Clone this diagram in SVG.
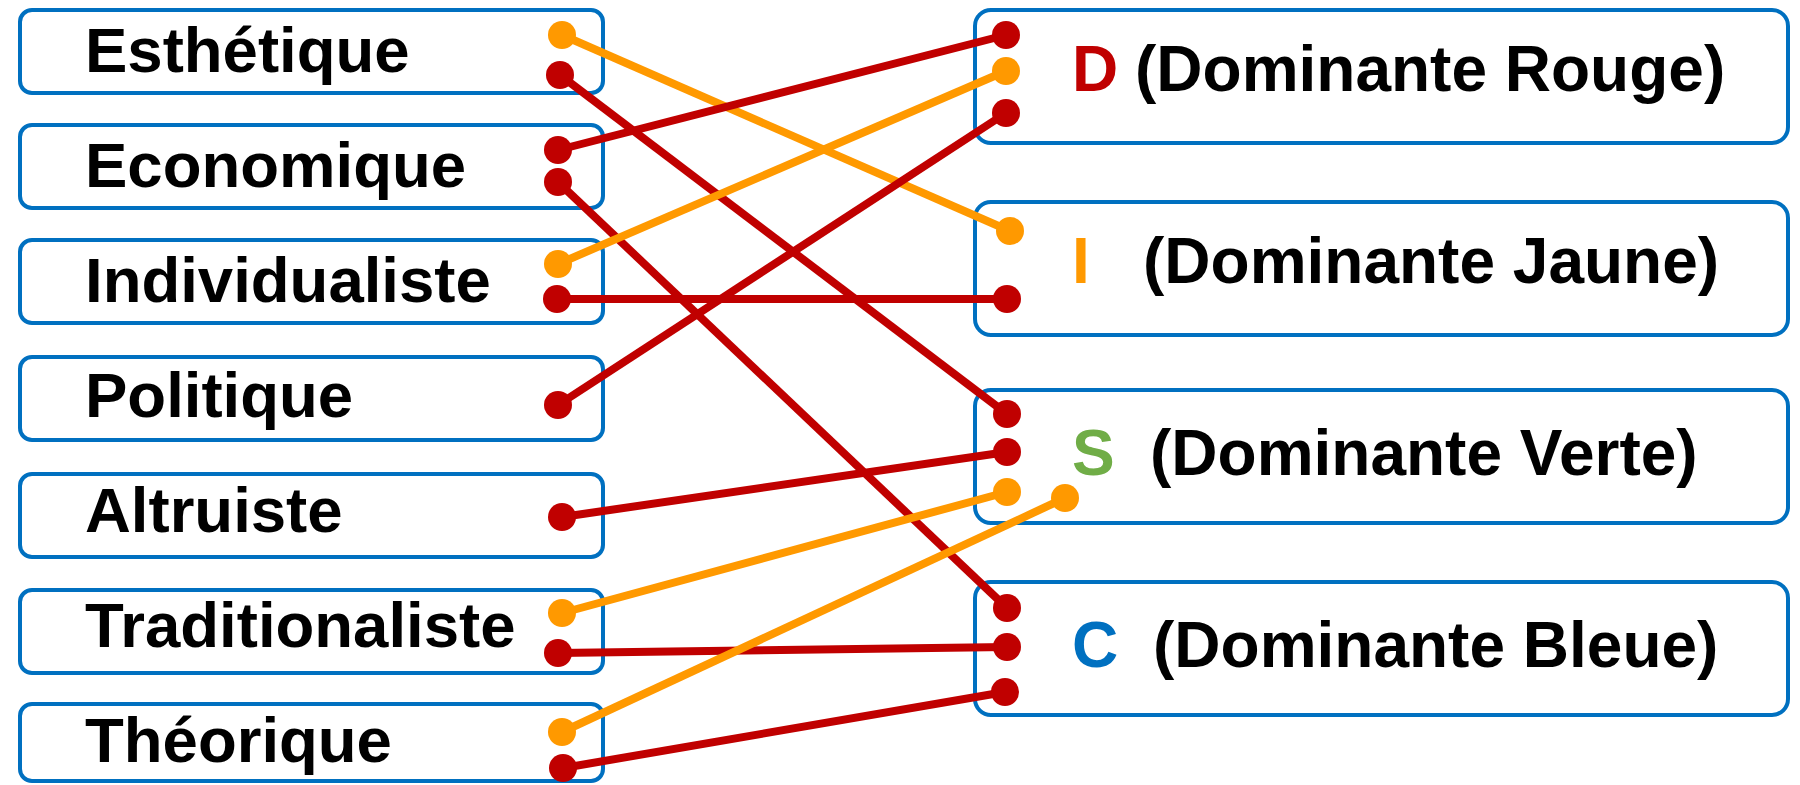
<svg xmlns="http://www.w3.org/2000/svg" width="1800" height="785" viewBox="0 0 1800 785">
<style>
.box{fill:#FFFFFF;stroke:#0070C0;stroke-width:4}
.lbl{font-family:"Liberation Sans",Arial,sans-serif;font-weight:bold;font-size:63.5px;fill:#000000}
.rl{font-size:64px}
.red{stroke:#C00000;stroke-width:8;fill:none}
.org{stroke:#FF9900;stroke-width:8;fill:none}
.dr{fill:#C00000}
.do{fill:#FF9900}
</style>
<rect width="1800" height="785" fill="#FFFFFF"/>
<g id="n-esthetique"><rect class="box" x="20" y="10" width="583" height="83" rx="12"/><text class="lbl" x="85" y="72">Esthétique</text></g>
<g id="n-economique"><rect class="box" x="20" y="125" width="583" height="83" rx="12"/><text class="lbl" x="85" y="187">Economique</text></g>
<g id="n-individualiste"><rect class="box" x="20" y="240" width="583" height="83" rx="12"/><text class="lbl" x="85" y="302">Individualiste</text></g>
<g id="n-politique"><rect class="box" x="20" y="357" width="583" height="83" rx="12"/><text class="lbl" x="85" y="417">Politique</text></g>
<g id="n-altruiste"><rect class="box" x="20" y="474" width="583" height="83" rx="12"/><text class="lbl" x="85" y="532">Altruiste</text></g>
<g id="n-traditionaliste"><rect class="box" x="20" y="590" width="583" height="83" rx="12"/><text class="lbl" x="85" y="647">Traditionaliste</text></g>
<g id="n-theorique"><rect class="box" x="20" y="704" width="583" height="77" rx="12"/><text class="lbl" x="85" y="762">Théorique</text></g>
<g id="n-D"><rect class="box" x="975" y="10" width="813" height="133" rx="16"/><text class="lbl rl" x="1072" y="91"><tspan fill="#C00000">D</tspan><tspan x="1135">(Dominante Rouge)</tspan></text></g>
<g id="n-I"><rect class="box" x="975" y="202" width="813" height="133" rx="16"/><text class="lbl rl" x="1072" y="283"><tspan fill="#FF9900">I</tspan><tspan x="1143">(Dominante Jaune)</tspan></text></g>
<g id="n-S"><rect class="box" x="975" y="390" width="813" height="133" rx="16"/><text class="lbl rl" x="1072" y="475"><tspan fill="#70AD47">S</tspan><tspan x="1150">(Dominante Verte)</tspan></text></g>
<g id="n-C"><rect class="box" x="975" y="582" width="813" height="133" rx="16"/><text class="lbl rl" x="1072" y="667"><tspan fill="#0070C0">C</tspan><tspan x="1153">(Dominante Bleue)</tspan></text></g>
<g id="connectors">
<line class="org" x1="562" y1="35" x2="1010" y2="231"/><circle class="do" cx="562" cy="35" r="14"/><circle class="do" cx="1010" cy="231" r="14"/>
<line class="red" x1="560" y1="75" x2="1007" y2="414"/><circle class="dr" cx="560" cy="75" r="14"/><circle class="dr" cx="1007" cy="414" r="14"/>
<line class="red" x1="558" y1="150" x2="1006" y2="35"/><circle class="dr" cx="558" cy="150" r="14"/><circle class="dr" cx="1006" cy="35" r="14"/>
<line class="red" x1="558" y1="182" x2="1007" y2="608"/><circle class="dr" cx="558" cy="182" r="14"/><circle class="dr" cx="1007" cy="608" r="14"/>
<line class="org" x1="558" y1="264" x2="1006" y2="71"/><circle class="do" cx="558" cy="264" r="14"/><circle class="do" cx="1006" cy="71" r="14"/>
<line class="red" x1="557" y1="299" x2="1007" y2="299"/><circle class="dr" cx="557" cy="299" r="14"/><circle class="dr" cx="1007" cy="299" r="14"/>
<line class="red" x1="558" y1="405" x2="1006" y2="113"/><circle class="dr" cx="558" cy="405" r="14"/><circle class="dr" cx="1006" cy="113" r="14"/>
<line class="red" x1="562" y1="517" x2="1007" y2="452"/><circle class="dr" cx="562" cy="517" r="14"/><circle class="dr" cx="1007" cy="452" r="14"/>
<line class="org" x1="562" y1="613" x2="1007" y2="492"/><circle class="do" cx="562" cy="613" r="14"/><circle class="do" cx="1007" cy="492" r="14"/>
<line class="red" x1="558" y1="653" x2="1007" y2="647"/><circle class="dr" cx="558" cy="653" r="14"/><circle class="dr" cx="1007" cy="647" r="14"/>
<line class="org" x1="562" y1="732" x2="1065" y2="498"/><circle class="do" cx="562" cy="732" r="14"/><circle class="do" cx="1065" cy="498" r="14"/>
<line class="red" x1="563" y1="768" x2="1005" y2="692"/><circle class="dr" cx="563" cy="768" r="14"/><circle class="dr" cx="1005" cy="692" r="14"/>
</g>
</svg>
